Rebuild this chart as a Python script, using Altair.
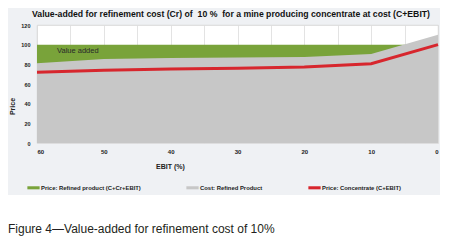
import altair as alt
import pandas as pd

# ---- data ----
ebit = [60, 50, 40, 30, 20, 10, 0]
refined_price = [100, 100, 100, 100, 100, 100, 100]   # Price: Refined product (C+Cr+EBIT)
cost_refined = [81, 85.5, 86.5, 87, 87.5, 90.5, 110]   # Cost: Refined Product
conc_price = [72, 74, 75.2, 76, 77.3, 80.7, 100]       # Price: Concentrate (C+EBIT)

series_names = [
    "Price: Refined product (C+Cr+EBIT)",
    "Cost: Refined Product",
    "Price: Concentrate (C+EBIT)",
]
series_colors = ["#79a33a", "#c7c7c7", "#d7262d"]

x_ticks = [60, 55, 50, 45, 40, 35, 30, 25, 20, 15, 10, 5, 0]
y_ticks = [0, 20, 40, 60, 80, 100, 120]

title_text = "Value-added for refinement cost (Cr) of\u00a0\u00a010 %\u00a0\u00a0for a mine producing concentrate at cost (C+EBIT)"
caption_text = "Figure 4\u2014Value-added for refinement cost of 10%"
annot_text = ["Value added"]
annot_x = [57]
annot_y = [93.5]

FONT = "Liberation Sans"

df_green = pd.DataFrame({"ebit": ebit, "value": refined_price, "series": series_names[0]})
df_gray = pd.DataFrame({"ebit": ebit, "value": cost_refined, "series": series_names[1]})
df_red = pd.DataFrame({"ebit": ebit, "value": conc_price, "series": series_names[2]})
df_annot = pd.DataFrame({"ebit": annot_x, "value": annot_y, "t": annot_text})

color_scale = alt.Scale(domain=series_names, range=series_colors)
legend = alt.Legend(
    title=None, orient="none", legendX=-10, legendY=156, direction="horizontal",
    symbolType="M-1,-0.25H1V0.25H-1Z", symbolSize=150, symbolStrokeWidth=0,
    labelFont=FONT, labelFontSize=5.9, labelFontWeight="bold", labelColor="#222222",
    labelOffset=1, columnPadding=45, padding=0,
)

x_enc = alt.X(
    "ebit:Q",
    scale=alt.Scale(domain=[0, 60], reverse=True, nice=False, zero=False),
    axis=alt.Axis(
        values=x_ticks, title="EBIT (%)",
        labelExpr="datum.value % 10 == 0 ? datum.label : ''",
        grid=True, gridColor="#dcdcdc", gridWidth=0.8,
        domain=False, ticks=False, labelPadding=5, labelOverlap=False,
        labelFont=FONT, labelFontSize=6, labelFontWeight="bold", labelColor="#222222",
        titleFont=FONT, titleFontSize=7, titleFontWeight="bold", titleColor="#222222",
        titleX=133, titleY=23, titleBaseline="middle", titleAnchor="start", titleAlign="center",
    ),
)
y_enc = alt.Y(
    "value:Q",
    scale=alt.Scale(domain=[0, 120], nice=False),
    axis=alt.Axis(
        values=y_ticks, title="Price", grid=False, domain=False, ticks=False,
        labelPadding=7, labelOverlap=False,
        labelFont=FONT, labelFontSize=5.5, labelFontWeight="bold", labelColor="#222222",
        titleFont=FONT, titleFontSize=7, titleFontWeight="bold", titleColor="#222222",
        titleX=-25, titleY=81, titleBaseline="middle", titleAlign="center", titleAngle=270,
    ),
)
color_enc = alt.Color("series:N", scale=color_scale, legend=legend)

caption_bg = alt.Chart(pd.DataFrame({"k": [0]})).mark_rect(color="white").encode(
    x=alt.value(-29), x2=alt.value(403), y=alt.value(170), y2=alt.value(215)
)

green = alt.Chart(df_green).mark_area(opacity=1).encode(x=x_enc, y=y_enc, color=color_enc)
gray = alt.Chart(df_gray).mark_area(opacity=1).encode(x=x_enc, y=y_enc, color=color_enc)
red = alt.Chart(df_red).mark_line(strokeWidth=3).encode(x=x_enc, y=y_enc, color=color_enc)

annot = alt.Chart(df_annot).mark_text(
    align="left", baseline="middle", font=FONT, fontSize=7.5, color="#2a2a2a"
).encode(x=x_enc, y=y_enc, text="t:N")

caption = alt.Chart(pd.DataFrame({"t": [caption_text]})).mark_text(
    align="left", baseline="alphabetic", font=FONT, fontSize=12, color="#231f20"
).encode(x=alt.value(-29), y=alt.value(208), text="t:N")

chart = alt.layer(caption_bg, green, gray, red, annot, caption).properties(
    width=401, height=118,
    autosize=alt.AutoSizeParams(type="none"),
    padding={"left": 29, "top": 17, "right": 2, "bottom": 93},
    background="#eff1f4",
    title=alt.TitleParams(
        title_text, anchor="start", frame="group", dx=-5, offset=4,
        font=FONT, fontSize=8.7, fontWeight="bold", color="#111111",
    ),
).configure_view(fill="white", stroke="#d0d0d0", strokeWidth=0.8)

chart.save("out.html", embed_options={"renderer": "svg", "actions": False})
